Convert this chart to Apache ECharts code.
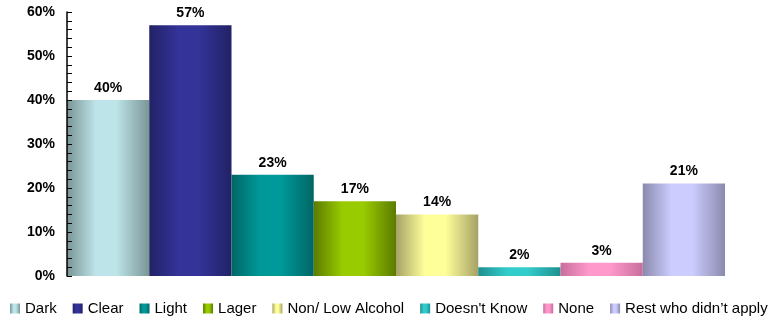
<!DOCTYPE html>
<html>
<head>
<meta charset="utf-8">
<script src="https://cdn.jsdelivr.net/npm/echarts@6/dist/echarts.min.js"></script>
<style>
  html, body { margin: 0; padding: 0; background: #fff; }
  #chart { width: 777px; height: 322px; }
</style>
</head>
<body>
<div id="chart"></div>
<script>
var categories = ['Dark', 'Clear', 'Light', 'Lager', 'Non/ Low Alcohol', "Doesn't Know", 'None', 'Rest who didn\u2019t apply'];
var values = [40, 57, 23, 17, 14, 2, 3, 21];
// light (middle) and dark (edge) shade of each bar
var lightColors = ['#bde4e8', '#333399', '#009999', '#99cc00', '#ffff99', '#33cccc', '#ff99cc', '#ccccff'];
var darkColors = ['#7a9696', '#222266', '#006666', '#5c7a00', '#a6a266', '#1f8f8f', '#c86e9c', '#8a8aae'];

var chart = echarts.init(document.getElementById('chart'));

var gradient = function (i) {
    return new echarts.graphic.LinearGradient(0, 0, 1, 0, [
        { offset: 0, color: darkColors[i] },
        { offset: 0.35, color: lightColors[i] },
        { offset: 0.6, color: lightColors[i] },
        { offset: 1, color: darkColors[i] }
    ]);
};

var series = [];
categories.forEach(function (name, i) {
    var data = categories.map(function (c, j) { return j === i ? values[i] : null; });
    series.push({
        name: name,
        type: 'bar',
        data: data,
        barGap: '-100%',
        barCategoryGap: 0,
        itemStyle: { color: gradient(i) },
        label: {
            show: true,
            position: 'top',
            distance: 5,
            formatter: '{c}%',
            color: '#000',
            fontWeight: 'bold',
            fontSize: 14,
            fontFamily: 'Liberation Sans, Arial, sans-serif'
        }
    });
});

var option = {
    animation: false,
    legend: {
        data: categories,
        bottom: 6,
        left: 10,
        width: 770,
        padding: 0,
        icon: 'rect',
        itemWidth: 10,
        itemHeight: 10,
        itemGap: 16,
        textStyle: {
            color: '#000',
            fontSize: 15,
            fontFamily: 'Liberation Sans, Arial, sans-serif'
        }
    },
    grid: { left: 67, right: 52, top: 12, bottom: 46 },
    xAxis: {
        type: 'category',
        data: categories,
        axisLine: { show: false },
        axisTick: { show: false },
        axisLabel: { show: false }
    },
    yAxis: {
        type: 'value',
        min: 0,
        max: 60,
        interval: 10,
        z: 10,
        axisLine: { show: true, lineStyle: { color: '#000', width: 1.5 } },
        axisTick: { show: true, inside: true, length: 5, lineStyle: { color: '#000' } },
        minorTick: { show: true, splitNumber: 5, length: 5, lineStyle: { color: '#000' } },
        splitLine: { show: false },
        axisLabel: {
            formatter: '{value}%',
            margin: 12,
            color: '#000',
            fontWeight: 'bold',
            fontSize: 14,
            fontFamily: 'Liberation Sans, Arial, sans-serif'
        }
    },
    series: series
};

chart.setOption(option);
</script>
</body>
</html>
